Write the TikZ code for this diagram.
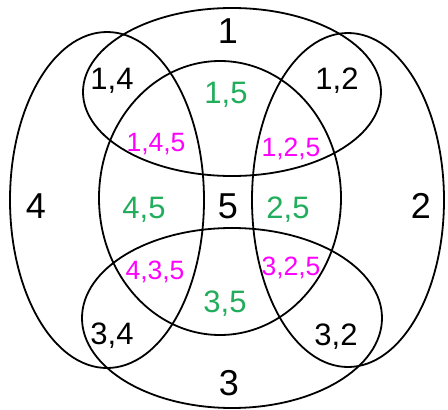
\documentclass[tikz,border=0pt]{standalone}
\usepackage{fontspec}
\setmainfont{Liberation Sans}
\definecolor{pairgreen}{HTML}{22AD5C}
\definecolor{triplemagenta}{HTML}{FF00FF}
\tikzset{
  setline/.style={draw=black, line width=1.8pt},
  setlabel/.style={anchor=base, inner sep=0pt, font=\fontsize{36}{36}\selectfont},
  pairlabel/.style={anchor=base, inner sep=0pt, font=\fontsize{31}{31}\selectfont},
  twolabel/.style={pairlabel, text=pairgreen},
  threelabel/.style={anchor=base, inner sep=0pt, text=triplemagenta,
    font=\fontsize{26.5}{26.5}\selectfont}
}

\begin{document}
\begin{tikzpicture}[x=1pt, y=-1pt]
\useasboundingbox (0,0) rectangle (448,410);

% the five sets
\draw[setline] (232,92) ellipse [x radius=149pt, y radius=84pt];   % 1
\draw[setline] (348,200) ellipse [x radius=96pt, y radius=167pt];  % 2
\draw[setline] (232,318) ellipse [x radius=150pt, y radius=90pt];  % 3
\draw[setline] (107,200) ellipse [x radius=97pt, y radius=168pt];  % 4
\draw[setline] (220,198) ellipse [x radius=121pt, y radius=137pt]; % 5

% single sets
\node[setlabel] (one)   at (228,43)  {1};
\node[setlabel] (two)   at (421,218) {2};
\node[setlabel] (three) at (229,395) {3};
\node[setlabel] (four)  at (36,218)  {4};
\node[setlabel] (five)  at (228,218) {5};

% pairs without 5
\node[pairlabel] (onefour)    at (112,89)  {1,4};
\node[pairlabel] (onetwo)     at (337,89)  {1,2};
\node[pairlabel] (threefour)  at (112,344) {3,4};
\node[pairlabel] (threetwo)   at (336,345) {3,2};

% pairs with 5
\node[twolabel] (onefive)   at (226,103) {1,5};
\node[twolabel] (fourfive)  at (144,218) {4,5};
\node[twolabel] (twofive)   at (288,218) {2,5};
\node[twolabel] (threefive) at (225,312) {3,5};

% triples
\node[threelabel] (onefourfive)   at (156,151) {1,4,5};
\node[threelabel] (onetwofive)    at (291,156) {1,2,5};
\node[threelabel] (fourthreefive) at (155,279) {4,3,5};
\node[threelabel] (threetwofive)  at (291,275) {3,2,5};
\end{tikzpicture}
\end{document}
